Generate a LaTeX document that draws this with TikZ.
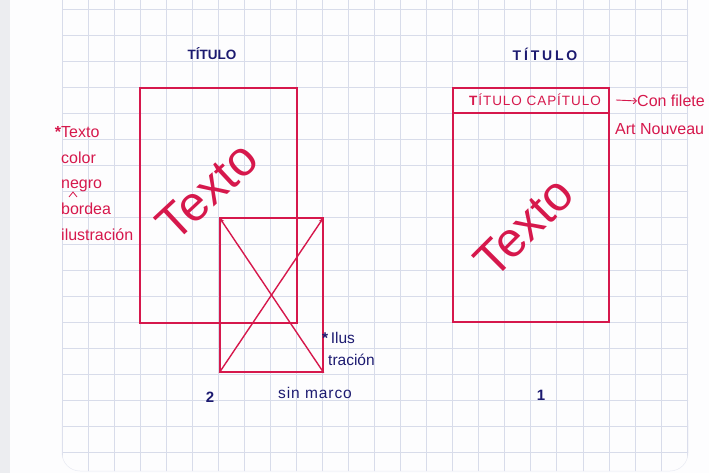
\documentclass[tikz,border=0pt]{standalone}
\usepackage{fontspec}
\setmainfont{Liberation Sans}
\usetikzlibrary{arrows.meta}
\definecolor{ink}{RGB}{214,24,76}
\definecolor{blueink}{RGB}{28,26,112}
\definecolor{gridc}{RGB}{216,220,234}
\definecolor{paper}{RGB}{253,253,254}
\definecolor{edge}{RGB}{236,237,240}
\tikzset{
  redline/.style={draw=ink, line width=1.4pt},
  pagebox/.style={redline, rectangle, inner sep=0pt},
  redtxt/.style={text=ink, inner sep=0pt, font=\fontsize{16}{25.8}\selectfont, align=left},
  bluetxt/.style={text=blueink, inner sep=0pt, font=\fontsize{15.5}{22}\selectfont, align=left},
  bluetitle/.style={text=blueink, inner sep=0pt, font=\fontsize{13.5}{15}\selectfont\bfseries},
  bigtext/.style={text=ink, inner sep=0pt, font=\fontsize{49}{52}\selectfont},
  gridline/.style={draw=gridc, line width=0.6pt}
}
\begin{document}
\begin{tikzpicture}[x=1pt,y=-1pt]
\useasboundingbox (0,0) rectangle (709,473);
% paper
\fill[paper] (0,0) rectangle (709,473);
\fill[edge] (0,0) rectangle (10,473);
% grid
\begin{scope}
  \clip[rounded corners=18pt] (62,-30) rectangle (688,471);
  \foreach \k in {0,...,24} {
    \draw[gridline] (62+26.04*\k,-30) -- (62+26.04*\k,480);
  }
  \foreach \k in {0,...,18} {
    \draw[gridline] (50,8.9+26.1*\k) -- (700,8.9+26.1*\k);
  }
\end{scope}
\draw[gridc!60, line width=0.5pt, rounded corners=18pt] (62,420) -- (62,471) -- (688,471) -- (688,420);

% ---------- left page (2) ----------
\node[bluetitle] (tL) at (212,54) {TÍTULO};
\node[pagebox, minimum width=157pt, minimum height=235pt] (L) at (218.5,205.5) {};
\node[bigtext, rotate=43] (txL) at (207,191) {Texto};
\node[pagebox, minimum width=103pt, minimum height=154pt] (ill) at (271.5,295) {};
\draw[redline, -{Stealth[length=6pt,width=4pt]}] (ill.south east) -- (ill.north west);
\draw[redline, -{Stealth[length=6pt,width=4pt]}] (ill.south west) -- (ill.north east);

\node[redtxt, anchor=north west] (noteL) at (61,126)
  {\makebox[0pt][r]{\textbf{*}}Texto\\color\\negro\\bordea\\ilustración};
\coordinate (car1) at (69,197);
\coordinate (car2) at (73,192);
\coordinate (car3) at (77,197);
\draw[ink, line width=0.8pt] (car1) -- (car2) -- (car3);

\node[bluetxt, anchor=north west] (noteI) at (328,332) {\makebox[0pt][r]{\textbf{*}}\,Ilus\\tración};
\node[bluetitle, font=\fontsize{15}{17}\selectfont\bfseries] (n2) at (210,397) {2};
\node[bluetxt, font=\fontsize{15.5}{18}\selectfont\addfontfeature{LetterSpace=6}] (sm) at (315,393) {sin marco};

% ---------- right page (1) ----------
\node[bluetitle, font=\fontsize{14}{16}\selectfont\bfseries\addfontfeature{LetterSpace=20}] (tR) at (545,54) {TÍTULO};
\node[pagebox, minimum width=156pt, minimum height=234pt] (R) at (531,205) {};
\coordinate (h1) at (453,113);
\coordinate (h2) at (609,113);
\draw[redline] (h1) -- (h2);
\node[redtxt, font=\fontsize{13.5}{15}\selectfont\addfontfeature{LetterSpace=7}] (hdr) at (535,100) {\textbf{T}ÍTULO CAPÍTULO};
\node[bigtext, rotate=45] (txR) at (524,227) {Texto};
\node[redtxt, anchor=west] (con) at (637,101) {Con filete};
\draw[ink, line width=0.9pt, -{Straight Barb[length=3pt]}] (616,100) -- (con.west);
\node[redtxt, anchor=west] (art) at (615,129) {Art Nouveau};
\node[bluetitle, font=\fontsize{15}{17}\selectfont\bfseries] (n1) at (541,395) {1};
\end{tikzpicture}
\end{document}
